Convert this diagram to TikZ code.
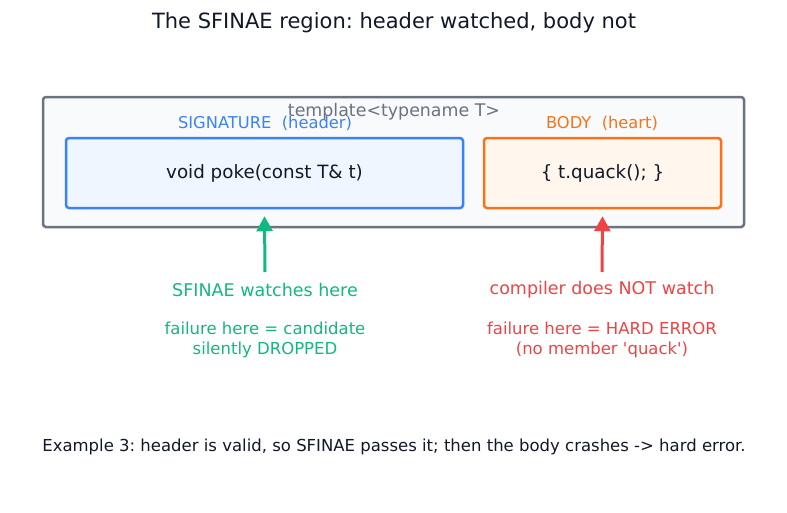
\documentclass[tikz,border=0pt]{standalone}
\usepackage{fontspec}
\setmainfont{DejaVu Sans}[Ligatures=TeXOff]
\usetikzlibrary{arrows.meta}
\frenchspacing
\definecolor{ink}{HTML}{111827}
\definecolor{slate}{HTML}{6B7280}
\definecolor{outerfill}{HTML}{F8FAFC}
\definecolor{sigblue}{HTML}{3B82F6}
\definecolor{sigfill}{HTML}{EFF6FF}
\definecolor{bodyorange}{HTML}{F97316}
\definecolor{bodyfill}{HTML}{FFF7ED}
\definecolor{okgreen}{HTML}{10B981}
\definecolor{errred}{HTML}{EF4444}
\tikzset{
  boxstyle/.style={draw, line width=2.5pt, rounded corners=3pt, inner sep=0pt},
  ptr/.style={line width=3pt, -{Triangle[length=15pt,width=16pt]}},
}
\begin{document}
\begin{tikzpicture}[x=1pt,y=-1pt]
\useasboundingbox[fill=white] (0,0) rectangle (787,512);
\node[text=ink, font=\fontsize{21}{25}\selectfont] (title) at (394,23) {The SFINAE region: header watched, body not};
\node[boxstyle, draw=slate, fill=outerfill, minimum width=701pt, minimum height=130pt] (outer) at (393.5,162) {};
\node[boxstyle, draw=sigblue, fill=sigfill, minimum width=397pt, minimum height=70pt] (sig) at (264.5,173) {};
\node[boxstyle, draw=bodyorange, fill=bodyfill, minimum width=237pt, minimum height=70pt] (body) at (602.5,173) {};
\node[text=slate, font=\fontsize{17.4}{20}\selectfont] (tmpl) at (394,112) {template<typename T>};
\node[text=sigblue, font=\fontsize{16.3}{20}\selectfont] (siglbl) at (265,123) {SIGNATURE\ \ (header)};
\node[text=bodyorange, font=\fontsize{16.3}{20}\selectfont] (bodylbl) at (602,123) {BODY\ \ (heart)};
\node[text=ink, font=\fontsize{18.3}{22}\selectfont] (sigcode) at (sig.center) {void poke(const T\& t)};
\node[text=ink, font=\fontsize{18.3}{22}\selectfont] (bodycode) at (body.center) {\{ t.quack(); \}};
\node[text=okgreen, font=\fontsize{17.5}{20}\selectfont] (gw) at (265,290) {SFINAE watches here};
\node[text=okgreen, font=\fontsize{16.5}{20}\selectfont, align=center] (gf) at (265,340) {failure here = candidate\\silently DROPPED};
\node[text=errred, font=\fontsize{17.5}{20}\selectfont] (rw) at (602,290) {compiler does NOT watch};
\node[text=errred, font=\fontsize{16.5}{20}\selectfont, align=center] (rf) at (602,340) {failure here = HARD ERROR\\(no member 'quack')};
\coordinate (gstart) at (265,272);
\coordinate (rstart) at (602,272);
\draw[ptr, draw=okgreen] (gstart) -- ([yshift=-7pt]sig.south);
\draw[ptr, draw=errred] (rstart) -- ([yshift=-7pt]body.south);
\node[text=ink, font=\fontsize{16.5}{20}\selectfont] (foot) at (394,447) {Example 3: header is valid, so SFINAE passes it; then the body crashes -> hard error.};
\end{tikzpicture}
\end{document}
